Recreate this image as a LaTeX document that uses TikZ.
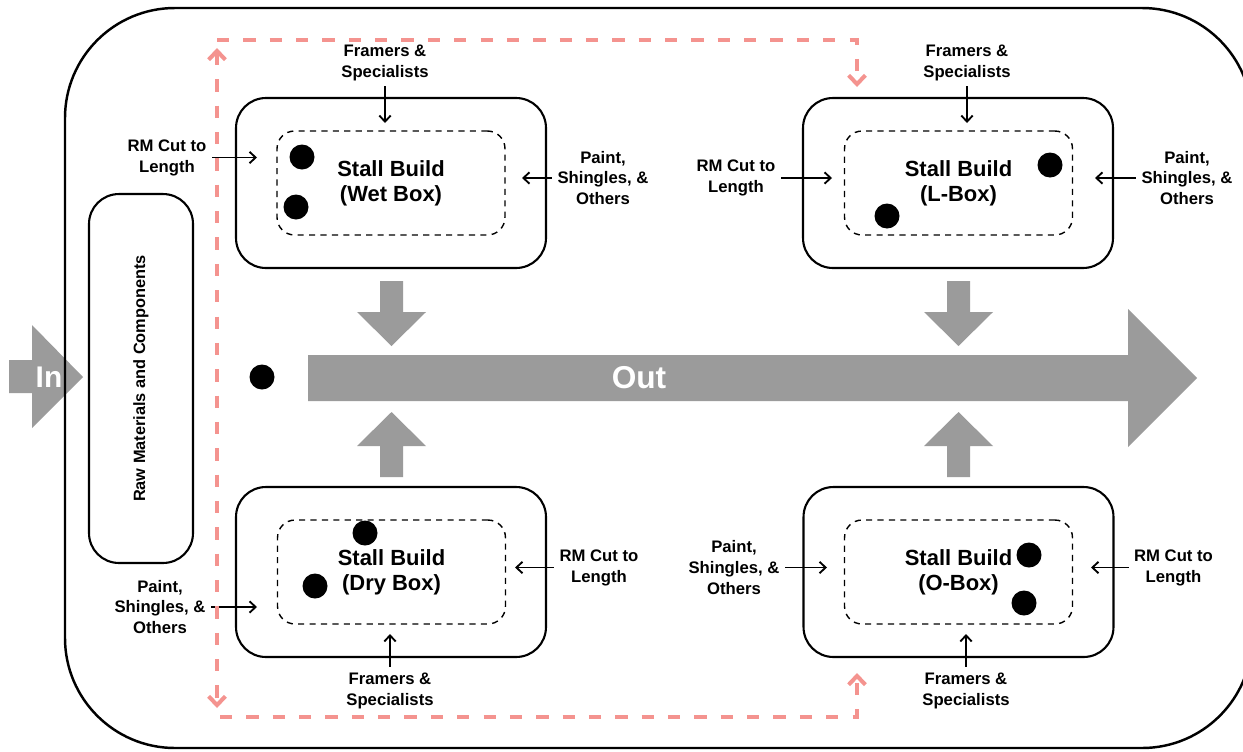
\documentclass[tikz,border=0pt]{standalone}
\usepackage{fontspec}
\setmainfont{Liberation Sans}
\usetikzlibrary{arrows.meta}
\definecolor{flowgray}{HTML}{9B9B9B}
\definecolor{looppink}{HTML}{F4938F}

\begin{document}
\begin{tikzpicture}[x=0.02cm,y=-0.02cm,
    stallbox/.style={draw,line width=1.2pt,rounded corners=17pt,minimum width=6.2cm,minimum height=3.4cm},
    stallarea/.style={draw,line width=0.8pt,dashed,dash pattern=on 3.5pt off 3pt,rounded corners=10pt,
      minimum width=4.56cm,minimum height=2.08cm,align=center,font=\bfseries\fontsize{12.5}{14.2}\selectfont},
    dot/.style={circle,fill=black,minimum size=0.5cm,inner sep=0pt},
    feedlabel/.style={align=center,inner sep=3pt,font=\bfseries\fontsize{9.5}{11.9}\selectfont},
    feedarrow/.style={line width=1.05pt,-{Straight Barb[length=3.5pt,width=6.5pt]}},
    loopline/.style={looppink,line width=2.3pt,dash pattern=on 7pt off 8pt},
    looptip/.tip={Straight Barb[length=5pt,width=9.5pt]}]
  \useasboundingbox (0,0) rectangle (1243,751);
  \clip (0,0) rectangle (1243,751);
  % in arrow, under the frame
  \fill[flowgray] (9,360) -- (32,360) -- (32,325) -- (83,377) -- (32,428) -- (32,393) -- (9,393) -- cycle;
  \node[text=white,font=\bfseries\fontsize{17}{20}\selectfont] (in) at (49,377) {In};
  % plant frame
  \draw[line width=1.4pt,rounded corners=2.2cm] (65,8) rectangle (1252,748);
  % raw materials
  \node[draw,line width=1.2pt,rounded corners=17pt,rotate=90,minimum width=7.38cm,minimum height=2.08cm,
    font=\bfseries\fontsize{9.3}{11}\selectfont] (raw) at (141,378.5) {Raw Materials and Components};
  % main flow
  \fill[flowgray] (308,355) -- (1128,355) -- (1128,309) -- (1197,378) -- (1128,447) -- (1128,401) -- (308,401) -- cycle;
  \node[text=white,font=\bfseries\fontsize{18}{21}\selectfont] (out) at (639,378) {Out};
  \fill[flowgray] (380,281) -- (403,281) -- (403,312) -- (426,312) -- (391.5,346) -- (357,312) -- (380,312) -- cycle;
  \fill[flowgray] (947,281) -- (970,281) -- (970,312) -- (993,312) -- (958.5,346) -- (924,312) -- (947,312) -- cycle;
  \fill[flowgray] (380,477) -- (403,477) -- (403,446) -- (426,446) -- (391.5,412) -- (357,446) -- (380,446) -- cycle;
  \fill[flowgray] (947,477) -- (970,477) -- (970,446) -- (993,446) -- (958.5,412) -- (924,446) -- (947,446) -- cycle;
  \node[dot] (start) at (262,377) {};
  % stall boxes
  \node[stallbox] (wet) at (391,183) {};
  \node[stallbox] (lbox) at (958,183) {};
  \node[stallbox] (dry) at (391,572) {};
  \node[stallbox] (obox) at (958.5,572) {};
  \node[stallarea] (wetin) at (391,183) {Stall Build\\(Wet Box)};
  \node[stallarea] (lboxin) at (958.5,183) {Stall Build\\(L-Box)};
  \node[stallarea] (dryin) at (391.5,572) {Stall Build\\(Dry Box)};
  \node[stallarea] (oboxin) at (958.5,572) {Stall Build\\(O-Box)};
  \node[dot] (wetA) at (302,157) {};
  \node[dot] (wetB) at (296,207) {};
  \node[dot] (lboxA) at (1050,165) {};
  \node[dot] (lboxB) at (887,216) {};
  \node[dot] (dryA) at (365,533) {};
  \node[dot] (dryB) at (315,586) {};
  \node[dot] (oboxA) at (1029,555) {};
  \node[dot] (oboxB) at (1024,603) {};
  % feeds
  \node[feedlabel] (wetcrew) at (385,62.5) {Framers \&\\Specialists};
  \node[feedlabel] (wetcut) at (167,157.5) {RM Cut to\\Length};
  \node[feedlabel] (wetpaint) at (603,178) {Paint,\\Shingles, \&\\Others};
  \node[feedlabel] (lboxcrew) at (967,62.5) {Framers \&\\Specialists};
  \node[feedlabel] (lboxcut) at (736,178) {RM Cut to\\Length};
  \node[feedlabel] (lboxpaint) at (1187,178) {Paint,\\Shingles, \&\\Others};
  \node[feedlabel] (drycrew) at (390,690.5) {Framers \&\\Specialists};
  \node[feedlabel] (drycut) at (599,567.5) {RM Cut to\\Length};
  \node[feedlabel] (drypaint) at (160,607) {Paint,\\Shingles, \&\\Others};
  \node[feedlabel] (oboxcrew) at (966,690.5) {Framers \&\\Specialists};
  \node[feedlabel] (oboxcut) at (1173.5,567.5) {RM Cut to\\Length};
  \node[feedlabel] (oboxpaint) at (734,567.5) {Paint,\\Shingles, \&\\Others};
  \coordinate (wetN) at (385,123);
  \coordinate (wetW) at (257,157.5);
  \coordinate (wetE) at (522,178);
  \coordinate (lboxN) at (967,123);
  \coordinate (lboxW) at (832,178);
  \coordinate (lboxE) at (1095,178);
  \coordinate (dryS) at (390,634);
  \coordinate (dryE) at (515,567.5);
  \coordinate (dryW) at (257,607);
  \coordinate (oboxS) at (966,634);
  \coordinate (oboxE) at (1091,567.5);
  \coordinate (oboxW) at (827,567.5);
  \draw[feedarrow] (wetcrew) -- (wetN);
  \draw[feedarrow] (wetcut) -- (wetW);
  \draw[feedarrow] (wetpaint) -- (wetE);
  \draw[feedarrow] (lboxcrew) -- (lboxN);
  \draw[feedarrow] (lboxcut) -- (lboxW);
  \draw[feedarrow] (lboxpaint) -- (lboxE);
  \draw[feedarrow] (drycrew) -- (dryS);
  \draw[feedarrow] (drycut) -- (dryE);
  \draw[feedarrow] (drypaint) -- (dryW);
  \draw[feedarrow] (oboxcrew) -- (oboxS);
  \draw[feedarrow] (oboxcut) -- (oboxE);
  \draw[feedarrow] (oboxpaint) -- (oboxW);
  % crew loop
  \coordinate (loopNW) at (217,40);
  \coordinate (loopNE) at (857,40);
  \coordinate (loopSW) at (220,717);
  \coordinate (loopSE) at (857,717);
  \coordinate (loopup) at (217,48);
  \coordinate (loopdown) at (217,708);
  \coordinate (loopintoL) at (857,87);
  \coordinate (loopintoO) at (857,673);
  \draw[loopline,looptip-looptip] (loopup) -- (loopdown);
  \draw[loopline,-looptip] (loopNW) -- (loopNE) -- (loopintoL);
  \draw[loopline,-looptip] (loopSW) -- (loopSE) -- (loopintoO);
\end{tikzpicture}
\end{document}
